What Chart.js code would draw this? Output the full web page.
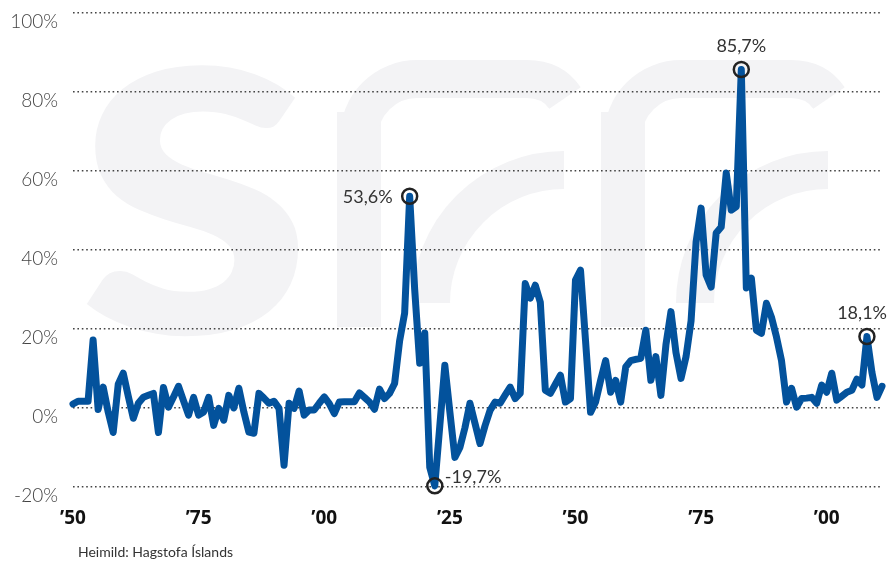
<!DOCTYPE html>
<html>
<head>
<meta charset="utf-8">
<script src="https://cdn.jsdelivr.net/npm/chart.js@4.4.0/dist/chart.umd.min.js"></script>
<style>
  html, body { margin: 0; padding: 0; background: #fff; }
  #wrap { width: 889px; height: 562px; position: relative; }
</style>
</head>
<body>
<div id="wrap"><canvas id="chart"></canvas></div>
<script>
// Verðbólga á Íslandi, árleg breyting (%), 1850-2011
const firstYear = 1850;
const inflation = [
  // 1850-1859
  1, 1.7, 1.7, 1.7, 17.2, -0.4, 5.3, -1, -6.2, 6,
  // 1860-1869
  8.8, 3, -2.6, 1.2, 2.7, 3.2, 3.7, -6.2, 5.2, 0.2,
  // 1870-1879
  2.8, 5.5, 1.8, -1.8, 2.7, -1.8, -1, 2.7, -4.4, -0.1,
  // 1880-1889
  -3.1, 3.2, 0, 5, -1, -6.1, -6.4, 3.7, 2.5, 1.2,
  // 1890-1899
  1.7, -0.1, -14.5, 1.2, -0.1, 4.3, -1.8, -0.5, -0.5, 1.2,
  // 1900-1909
  2.8, 1.1, -1.4, 1.5, 1.6, 1.6, 1.6, 3.8, 2.7, 1.5,
  // 1910-1919
  -0.3, 4.8, 2.4, 3.7, 6.2, 17, 24, 53.6, 30, 11.3,
  // 1920-1929
  19, -15, -19.7, -4.5, 10.8, -1, -12.5, -10, -5, 1.2,
  // 1930-1939
  -3.9, -9, -4.5, -0.6, 1.5, 1.2, 3.3, 5.3, 2.4, 3.7,
  // 1940-1949
  31.5, 27.8, 31.1, 26.8, 4.5, 3.7, 6, 8.3, 1.5, 2.4,
  // 1950-1959
  32.4, 34.9, 17, -1.1, 1.5, 7, 12, 4, 7, 1.5,
  // 1960-1969
  10.4, 12, 12.3, 12.6, 19.7, 7, 13, 3.2, 16, 24.4,
  // 1970-1979
  14, 7.5, 13, 22, 42, 50.6, 33.7, 30.6, 44.3, 45.8,
  // 1980-1989
  59.5, 50.1, 51, 85.7, 30.4, 32.9, 19.7, 18.9, 26.5, 23,
  // 1990-1999
  18, 12, 1.5, 5, 0.2, 2.4, 2.5, 2.7, 1.2, 5.8,
  // 2000-2009
  4, 8.8, 2, 3, 4, 4.5, 7.3, 5.8, 18.1, 9,
  // 2010-2011
  2.7, 5.5
];
const years = inflation.map((_, i) => firstYear + i);
const yTicks = [-20, 0, 20, 40, 60, 80, 100];
const markedYears = [1917, 1922, 1983, 2008];
const source = "Heimild: Hagstofa Íslands";

const lineBlue = "#03529c";
const markPlace = { 1917: "left", 1922: "right", 1983: "above", 2008: "above" };

// faint "sff" logo in the background
function drawF(ctx, ox) {
  ctx.fillRect(ox, 112, 44, 215);
  ctx.lineWidth = 38;
  ctx.beginPath();
  ctx.moveTo(ox + 22, 130);
  ctx.arcTo(ox + 22, 79, ox + 90, 79, 58);
  ctx.lineTo(ox + 190, 79);
  ctx.quadraticCurveTo(ox + 215, 79, ox + 228, 98);
  ctx.stroke();
  ctx.beginPath();
  ctx.arc(ox + 227, 303, 133, Math.PI, Math.PI * 1.5);
  ctx.stroke();
}

const watermark = {
  id: "watermark",
  beforeDraw(chart) {
    const ctx = chart.ctx;
    ctx.save();
    ctx.fillStyle = "#fff";
    ctx.fillRect(0, 0, chart.width, chart.height);
    ctx.fillStyle = "#f3f3f5";
    ctx.strokeStyle = "#f3f3f5";
    ctx.font = "700 530px Lato";
    const m = ctx.measureText("s");
    const w = m.actualBoundingBoxRight + m.actualBoundingBoxLeft;
    const h = m.actualBoundingBoxAscent + m.actualBoundingBoxDescent;
    ctx.save();
    ctx.translate(82, 60);
    ctx.scale(224 / w, 280 / h);
    ctx.textBaseline = "alphabetic";
    ctx.fillText("s", m.actualBoundingBoxLeft, m.actualBoundingBoxAscent);
    ctx.restore();
    drawF(ctx, 337);
    drawF(ctx, 601);
    ctx.restore();
  }
};

const markers = {
  id: "markers",
  afterDatasetsDraw(chart) {
    const ctx = chart.ctx;
    const meta = chart.getDatasetMeta(0);
    ctx.save();
    ctx.font = '18px Lato';
    ctx.fillStyle = "#333";
    ctx.textBaseline = "middle";
    markedYears.forEach((yr) => {
      const i = years.indexOf(yr);
      const pt = meta.data[i];
      const txt = inflation[i].toFixed(1).replace(".", ",") + "%";
      const place = markPlace[yr];
      if (place === "left") {
        ctx.textAlign = "right";
        ctx.fillText(txt, pt.x - 17, pt.y + 1);
      } else if (place === "right") {
        ctx.textAlign = "left";
        ctx.fillText(txt, pt.x + 10, pt.y - 9);
      } else {
        const half = ctx.measureText(txt).width / 2;
        const cx = Math.min(pt.x, chart.width - 2 - half);
        ctx.textAlign = "center";
        ctx.fillText(txt, cx, pt.y - 23);
      }
    });
    // source line
    ctx.textAlign = "left";
    ctx.textBaseline = "middle";
    ctx.font = '14px Lato';
    ctx.fillStyle = "#333";
    ctx.fillText(source, 78, 552);
    ctx.restore();
  }
};

new Chart(document.getElementById("chart"), {
  type: "line",
  plugins: [watermark, markers],
  data: {
    labels: years,
    datasets: [{
      data: inflation,
      borderColor: lineBlue,
      borderWidth: 7,
      borderJoinStyle: "round",
      borderCapStyle: "round",
      tension: 0,
      fill: false,
      clip: false,
      pointRadius: (c) => markedYears.includes(years[c.dataIndex]) ? 7.5 : 0,
      pointHoverRadius: (c) => markedYears.includes(years[c.dataIndex]) ? 7.5 : 0,
      pointBorderWidth: 2.5,
      pointBorderColor: "#222",
      pointBackgroundColor: "rgba(0,0,0,0)"
    }]
  },
  options: {
    responsive: true,
    maintainAspectRatio: false,
    animation: false,
    events: [],
    layout: { padding: { top: 13, right: 7, bottom: 0, left: 0 } },
    plugins: {
      legend: { display: false },
      tooltip: { enabled: false }
    },
    scales: {
      x: {
        type: "category",
        offset: false,
        grid: { display: false, drawTicks: false },
        border: { display: false },
        afterFit: (s) => { s.height = 75; s.paddingLeft = 0; s.paddingRight = 0; },
        ticks: {
          autoSkip: false,
          maxRotation: 0,
          padding: 20,
          color: "#111",
          font: { family: "Open Sans", weight: "bold", size: 19 },
          callback: function (v, i) {
            const y = years[i];
            return y % 25 === 0 ? "\u2019" + String(y).slice(2) : null;
          }
        }
      },
      y: {
        min: -20,
        max: 100,
        afterFit: (s) => { s.width = 73; s.paddingTop = 0; s.paddingBottom = 0; },
        afterBuildTicks: (s) => { s.ticks = yTicks.map((v) => ({ value: v })); },
        grid: { color: "#444", lineWidth: 1.6, drawTicks: false },
        border: { display: false, dash: [1.6, 2.8] },
        ticks: {
          padding: 15,
          labelOffset: 9,
          color: "#444",
          font: { family: "Lato", weight: "300", size: 19 },
          callback: (v) => v + "%"
        }
      }
    }
  }
});
</script>
</body>
</html>
